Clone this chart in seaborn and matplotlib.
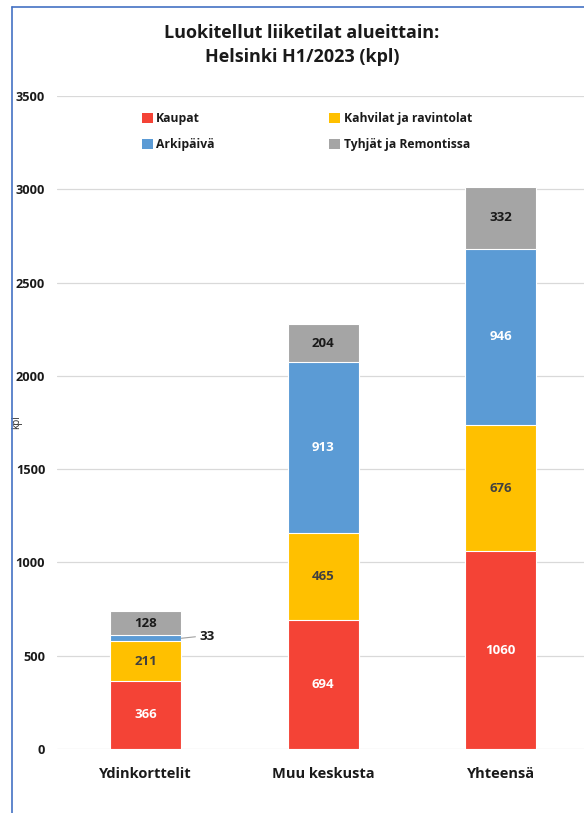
import numpy as np
import pandas as pd
import matplotlib
matplotlib.use("Agg")
import matplotlib.pyplot as plt
import seaborn as sns
from matplotlib.patches import Patch
from matplotlib.lines import Line2D

# --- data ---
areas = ["Ydinkorttelit", "Muu keskusta", "Yhteensä"]
kaupat = [366, 694, 1060]
kahvilat = [211, 465, 676]
arkipaiva = [33, 913, 946]
tyhjat = [128, 204, 332]

series_names = ["Kaupat", "Kahvilat ja ravintolat", "Arkipäivä", "Tyhjät ja Remontissa"]
series_colors = ["#F44336", "#FFC000", "#5B9BD5", "#A5A5A5"]
label_colors = ["white", "#404040", "white", "#1a1a1a"]

sns.set_style("white")
plt.rcParams["font.family"] = ["Open Sans", "DejaVu Sans"]

values = np.array([kaupat, kahvilat, arkipaiva, tyhjat])
cum = values.cumsum(axis=0)

fig = plt.figure(figsize=(5.84, 8.13), dpi=100)
ax = fig.add_axes([57 / 584, 64 / 813, 1 - 57 / 584, (749 - 96) / 813])

# stacked bars: draw cumulative totals from the top series down
for i in range(3, -1, -1):
    df = pd.DataFrame({"area": areas, "value": cum[i]})
    sns.barplot(data=df, x="area", y="value", color=series_colors[i], width=0.4,
                edgecolor="white", linewidth=0.8, saturation=1, ax=ax, zorder=3)

# segment labels
for i in range(4):
    for j, area in enumerate(areas):
        v = values[i][j]
        mid = cum[i][j] - v / 2
        if v < 60:
            ax.plot([0.2 + j, 0.28 + j], [mid, mid + 8], color="#A0A0A0", lw=0.8, zorder=4)
            ax.text(j + 0.3, mid + 8, str(v), ha="left", va="center",
                    fontsize=9.5, fontweight="bold", color="#1a1a1a")
        else:
            ax.text(j, mid, str(v), ha="center", va="center", fontsize=9.5,
                    fontweight="bold", color=label_colors[i], zorder=5)

ax.set_ylim(0, 3500)
ax.set_xlim(-0.5, 2.47)
ax.set_yticks(range(0, 3501, 500))
ax.yaxis.grid(True, color="#D9D9D9", lw=0.9, zorder=0)
ax.set_axisbelow(True)
sns.despine(ax=ax, left=True, bottom=True, top=True, right=True)
ax.tick_params(axis="y", length=0, pad=8.5, labelsize=9.2)
ax.tick_params(axis="x", length=0, pad=13, labelsize=10.5)
for t in ax.get_yticklabels() + ax.get_xticklabels():
    t.set_fontweight("bold")
    t.set_color("#1a1a1a")
ax.set_xlabel("")
ax.set_ylabel("kpl", fontsize=7, color="#262626")
ax.yaxis.set_label_coords(-0.066, 0.5)

handles = [Patch(facecolor=c, edgecolor="none") for c in series_colors]
order = [0, 2, 1, 3]
leg = ax.legend([handles[k] for k in order], [series_names[k] for k in order],
                ncol=2, loc="upper left", bbox_to_anchor=(0.14, 0.992), frameon=False,
                handlelength=0.9, handleheight=0.9, handletextpad=0.3,
                columnspacing=9.5, labelspacing=1.1, fontsize=8.7)
for t in leg.get_texts():
    t.set_fontweight("bold")
    t.set_color("#1a1a1a")

fig.text(302 / 584, 1 - 45 / 813, "Luokitellut liiketilat alueittain:\nHelsinki H1/2023 (kpl)",
         ha="center", va="center", fontsize=13, fontweight="bold", color="#1a1a1a",
         linespacing=1.4)

# chart frame (blue border on the left and top)
fig.add_artist(Line2D([12 / 584, 12 / 584], [0, 1 - 7 / 813], color="#4472C4", lw=1.2))
fig.add_artist(Line2D([12 / 584, 1], [1 - 7 / 813, 1 - 7 / 813], color="#4472C4", lw=1.2))

fig.savefig("out.png", dpi=100)
